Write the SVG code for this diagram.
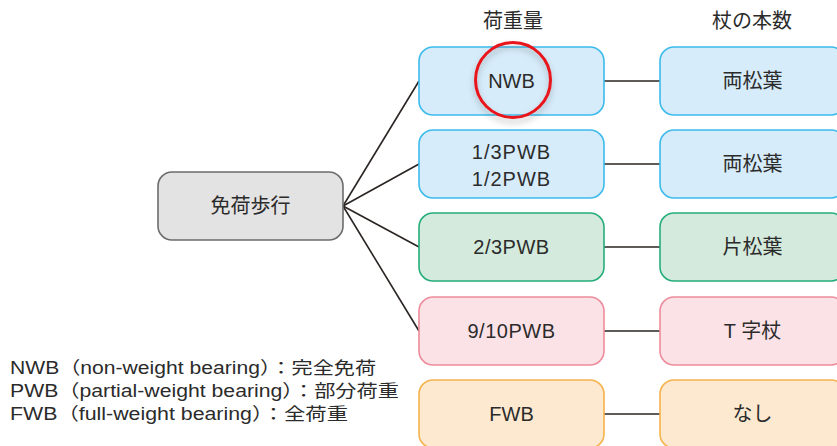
<svg xmlns="http://www.w3.org/2000/svg" width="837" height="446" viewBox="0 0 837 446">
<defs>
<style>
text{font-family:"Liberation Sans","Noto Sans CJK JP",sans-serif;fill:#2b2b2b;}
.t{font-size:20px;text-anchor:middle;}
.h{font-size:20px;text-anchor:middle;}
.lg{font-size:17.5px;}
.blue{fill:#d7ecfa;stroke:#3dbbec;stroke-width:1.6;}
.green{fill:#d4eadc;stroke:#26ad7c;stroke-width:1.6;}
.pink{fill:#fbe2e6;stroke:#ee8c9c;stroke-width:1.6;}
.orange{fill:#fde9d0;stroke:#f6b24c;stroke-width:1.6;}
.gray{fill:#e3e3e3;stroke:#6c6c6c;stroke-width:1.6;}
.c{stroke:#2a2422;stroke-width:1.6;fill:none;}
</style>
<filter id="sh" x="-30%" y="-30%" width="160%" height="170%">
<feDropShadow dx="0" dy="4" stdDeviation="3" flood-color="#000" flood-opacity="0.25"/>
</filter>
</defs>
<rect width="837" height="446" fill="#fff"/>
<text class="h" x="513" y="28">荷重量</text>
<text class="h" x="752" y="28">杖の本数</text>
<g id="connectors">
<line class="c" x1="343" y1="206" x2="419" y2="81"/>
<line class="c" x1="343" y1="206" x2="419" y2="164"/>
<line class="c" x1="343" y1="206" x2="419" y2="247"/>
<line class="c" x1="343" y1="206" x2="419" y2="331"/>
<line class="c" x1="604" y1="81" x2="660" y2="81"/>
<line class="c" x1="604" y1="164" x2="660" y2="164"/>
<line class="c" x1="604" y1="247" x2="660" y2="247"/>
<line class="c" x1="604" y1="331" x2="660" y2="331"/>
<line class="c" x1="604" y1="414" x2="660" y2="414"/>
</g>
<g id="root"><rect class="gray" x="158" y="172" width="185" height="68" rx="14"/><text class="t" x="250.5" y="213">免荷歩行</text></g>
<g id="nwb"><rect class="blue" x="419" y="47" width="185" height="68" rx="14"/><text class="t" x="511.5" y="88">NWB</text></g>
<g id="pwb13"><rect class="blue" x="419" y="130" width="185" height="68" rx="14"/><text class="t" x="511.5" y="159" letter-spacing="1">1/3PWB</text><text class="t" x="511.5" y="186" letter-spacing="1">1/2PWB</text></g>
<g id="pwb23"><rect class="green" x="419" y="213" width="185" height="68" rx="14"/><text class="t" x="511.5" y="254" letter-spacing="0.5">2/3PWB</text></g>
<g id="pwb910"><rect class="pink" x="419" y="297" width="185" height="68" rx="14"/><text class="t" x="511.5" y="338" letter-spacing="0.5">9/10PWB</text></g>
<g id="fwb"><rect class="orange" x="419" y="380" width="185" height="68" rx="14"/><text class="t" x="511.5" y="421">FWB</text></g>
<g id="r1"><rect class="blue" x="660" y="47" width="185" height="68" rx="14"/><text class="t" x="752.5" y="88">両松葉</text></g>
<g id="r2"><rect class="blue" x="660" y="130" width="185" height="68" rx="14"/><text class="t" x="752.5" y="171">両松葉</text></g>
<g id="r3"><rect class="green" x="660" y="213" width="185" height="68" rx="14"/><text class="t" x="752.5" y="254">片松葉</text></g>
<g id="r4"><rect class="pink" x="660" y="297" width="185" height="68" rx="14"/><text class="t" x="752.5" y="338">T 字杖</text></g>
<g id="r5"><rect class="orange" x="660" y="380" width="185" height="68" rx="14"/><text class="t" x="752.5" y="421">なし</text></g>
<circle cx="513" cy="80" r="37.5" fill="none" stroke="#e8161b" stroke-width="3" filter="url(#sh)"/>
<g id="legend">
<text class="lg" x="10" y="374" textLength="366" lengthAdjust="spacingAndGlyphs">NWB（non-weight bearing）：完全免荷</text>
<text class="lg" x="10" y="397" textLength="389" lengthAdjust="spacingAndGlyphs">PWB（partial-weight bearing）：部分荷重</text>
<text class="lg" x="10" y="420" textLength="338" lengthAdjust="spacingAndGlyphs">FWB（full-weight bearing）：全荷重</text>
</g>
</svg>
